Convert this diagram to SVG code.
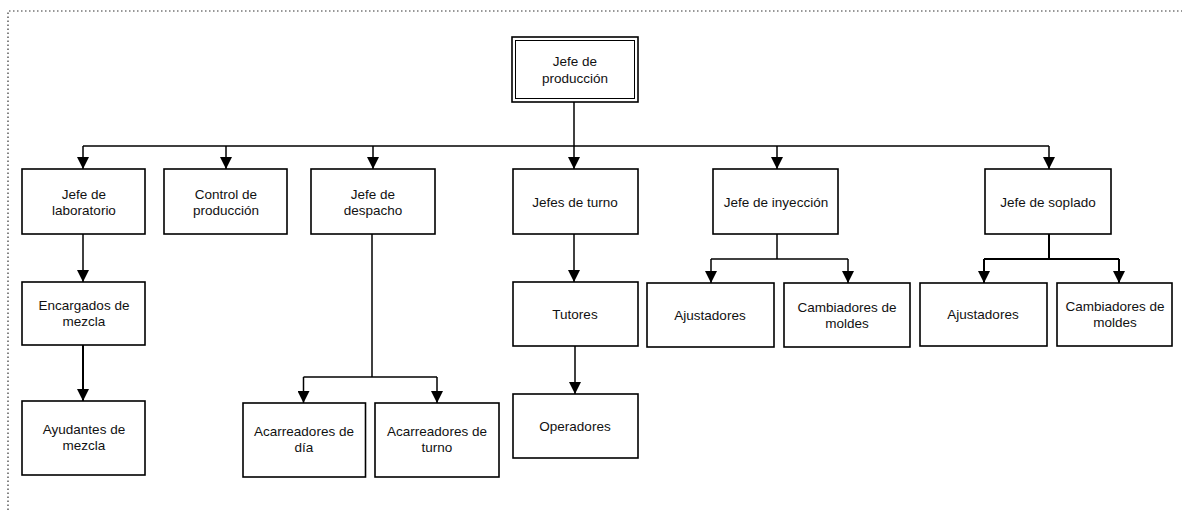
<svg xmlns="http://www.w3.org/2000/svg" width="1182" height="510" viewBox="0 0 1182 510">
<style>
.box{fill:#fff;stroke:#000;stroke-width:1.6}
.t{font-family:"Liberation Sans",Arial,sans-serif;font-size:13.5px;fill:#111;text-anchor:middle}
.c{fill:none;stroke:#000;stroke-width:1.5}
.a{marker-end:url(#arr)}
.frame{fill:none;stroke:#333;stroke-width:1.2;stroke-dasharray:1.5,2.5}
</style>
<defs>
<marker id="arr" markerUnits="userSpaceOnUse" markerWidth="12" markerHeight="12" refX="11" refY="5.5" orient="auto" viewBox="0 0 11 11">
<path d="M0,0 L11,5.5 L0,11 z" fill="#000"/>
</marker>
</defs>
<rect width="1182" height="510" fill="#fff"/>
<path class="frame" d="M8,510 V11 H1182"/>
<g id="connectors">
<path class="c" d="M574,102 V146"/>
<path class="c" d="M83,146 H1049"/>
<path class="c a" d="M83,146 V169"/>
<path class="c a" d="M226,146 V169"/>
<path class="c a" d="M373,146 V169"/>
<path class="c a" d="M574,146 V169"/>
<path class="c a" d="M777,146 V169"/>
<path class="c a" d="M1049,146 V169"/>
<path class="c a" d="M83,234 V282"/>
<path class="c a" style="stroke-width:2" d="M83,345 V401"/>
<path class="c" d="M372,234 V377"/>
<path class="c" d="M303.5,377 H437"/>
<path class="c a" d="M303.5,377 V403"/>
<path class="c a" d="M437,377 V403"/>
<path class="c a" d="M574,234 V282"/>
<path class="c a" d="M575,346 V394"/>
<path class="c" d="M777,234 V259"/>
<path class="c" d="M711,259 H848"/>
<path class="c a" d="M711,259 V283"/>
<path class="c a" d="M848,259 V283"/>
<path class="c" style="stroke-width:2" d="M1049,234 V259"/>
<path class="c" style="stroke-width:2" d="M984,259 H1119"/>
<path class="c a" style="stroke-width:2" d="M984,259 V283"/>
<path class="c a" style="stroke-width:2" d="M1119,259 V283"/>
</g>
<g id="n-jefe-produccion">
<rect x="512" y="37" width="126" height="65" fill="#fff" stroke="#000" stroke-width="1.6"/>
<rect x="515.5" y="40.5" width="119" height="58" fill="none" stroke="#000" stroke-width="1"/>
<text class="t" x="575" y="66">Jefe de</text>
<text class="t" x="575" y="83">producción</text>
</g>
<g id="n-jefe-laboratorio">
<rect class="box" x="22" y="169" width="123" height="65"/>
<text class="t" x="84" y="199">Jefe de</text>
<text class="t" x="84" y="215">laboratorio</text>
</g>
<g id="n-control-produccion">
<rect class="box" x="164" y="169" width="123" height="65"/>
<text class="t" x="226" y="199">Control de</text>
<text class="t" x="226" y="215">producción</text>
</g>
<g id="n-jefe-despacho">
<rect class="box" x="311" y="169" width="124" height="65"/>
<text class="t" x="373" y="199">Jefe de</text>
<text class="t" x="373" y="215">despacho</text>
</g>
<g id="n-jefes-turno">
<rect class="box" x="513" y="169" width="125" height="65"/>
<text class="t" x="575" y="207">Jefes de turno</text>
</g>
<g id="n-jefe-inyeccion">
<rect class="box" x="713" y="169" width="125" height="65"/>
<text class="t" x="776" y="207">Jefe de inyección</text>
</g>
<g id="n-jefe-soplado">
<rect class="box" x="985" y="169" width="126" height="65"/>
<text class="t" x="1048" y="207">Jefe de soplado</text>
</g>
<g id="n-encargados-mezcla">
<rect class="box" x="22" y="282" width="123" height="63"/>
<text class="t" x="84" y="310">Encargados de</text>
<text class="t" x="84" y="326">mezcla</text>
</g>
<g id="n-tutores">
<rect class="box" x="513" y="282" width="125" height="64"/>
<text class="t" x="575" y="319">Tutores</text>
</g>
<g id="n-ajustadores-iny">
<rect class="box" x="647" y="283" width="127" height="64"/>
<text class="t" x="710" y="320">Ajustadores</text>
</g>
<g id="n-cambiadores-iny">
<rect class="box" x="784" y="283" width="126" height="64"/>
<text class="t" x="847" y="312">Cambiadores de</text>
<text class="t" x="847" y="328">moldes</text>
</g>
<g id="n-ajustadores-sop">
<rect class="box" x="920" y="283" width="127" height="63"/>
<text class="t" x="983" y="319">Ajustadores</text>
</g>
<g id="n-cambiadores-sop">
<rect class="box" x="1057" y="283" width="115" height="63"/>
<text class="t" x="1115" y="311">Cambiadores de</text>
<text class="t" x="1115" y="327">moldes</text>
</g>
<g id="n-ayudantes-mezcla">
<rect class="box" x="22" y="401" width="123" height="74"/>
<text class="t" x="84" y="434">Ayudantes de</text>
<text class="t" x="84" y="450">mezcla</text>
</g>
<g id="n-acarreadores-dia">
<rect class="box" x="243" y="403" width="122.5" height="74"/>
<text class="t" x="304" y="436">Acarreadores de</text>
<text class="t" x="304" y="452">día</text>
</g>
<g id="n-acarreadores-turno">
<rect class="box" x="375" y="403" width="124" height="74"/>
<text class="t" x="437" y="436">Acarreadores de</text>
<text class="t" x="437" y="452">turno</text>
</g>
<g id="n-operadores">
<rect class="box" x="513" y="394" width="125" height="64"/>
<text class="t" x="575" y="431">Operadores</text>
</g>
</svg>
